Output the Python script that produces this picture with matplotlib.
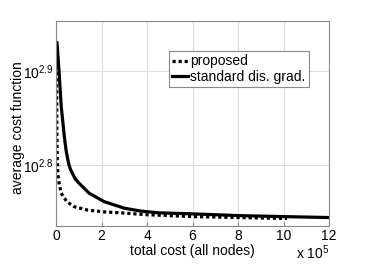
import numpy as np
import matplotlib
matplotlib.use("Agg")
import matplotlib.pyplot as plt

plt.rcParams['font.family'] = ['Liberation Sans', 'DejaVu Sans']
plt.rcParams['mathtext.fontset'] = 'custom'
plt.rcParams['mathtext.rm'] = 'Liberation Sans'
plt.rcParams['mathtext.it'] = 'Liberation Sans:italic'
plt.rcParams['mathtext.bf'] = 'Liberation Sans:bold'

# x in units of 1e5 (total cost), y = log10(average cost)
x_proposed = [0.02, 0.03, 0.04, 0.06, 0.09, 0.13, 0.23, 0.47, 0.79, 1.38, 2.11, 2.84, 4.0, 6.0, 8.0, 10.15]
logy_proposed = [2.931, 2.880, 2.830, 2.800, 2.789, 2.781, 2.770, 2.761, 2.7556, 2.752, 2.750, 2.749, 2.747, 2.745, 2.744, 2.743]

x_standard = [0.04, 0.06, 0.13, 0.23, 0.37, 0.44, 0.50, 0.57, 0.64, 0.72, 0.85, 1.01, 1.45, 2.11, 2.99, 3.69, 4.50, 5.89, 8.10, 10.0, 12.0]
logy_standard = [2.930, 2.925, 2.901, 2.862, 2.829, 2.816, 2.808, 2.800, 2.795, 2.791, 2.785, 2.7806, 2.770, 2.761, 2.754, 2.751, 2.749, 2.748, 2.746, 2.745, 2.744]

labels = ['proposed', 'standard dis. grad.']
xticks = [0, 2, 4, 6, 8, 10, 12]
ytick_exps = [2.8, 2.9]

y_proposed = 10 ** np.array(logy_proposed)
y_standard = 10 ** np.array(logy_standard)

fig = plt.figure(figsize=(3.74, 2.77), dpi=100)
ax = fig.add_axes([56/374, 51/277, 273/374, 205/277])

ax.plot(x_proposed, y_proposed, color='black', lw=2.3, linestyle=(0, (1, 0.9)), label=labels[0])
ax.plot(x_standard, y_standard, color='black', lw=2.3, linestyle='-', label=labels[1],
        solid_joinstyle='round')

ax.set_yscale('log')
ax.set_xlim(0, 12)
ax.set_ylim(10 ** 2.735, 10 ** 2.953)
ax.set_xticks(xticks)
ax.set_xticklabels([str(t) for t in xticks])
ax.set_yticks([10 ** e for e in ytick_exps])
ax.set_yticklabels([r'$10^{%g}$' % e for e in ytick_exps])
ax.yaxis.set_minor_locator(matplotlib.ticker.NullLocator())

ax.grid(True, color='#dcdcdc', lw=0.8)
ax.set_axisbelow(True)
for s in ax.spines.values():
    s.set_color('#888888')
    s.set_linewidth(0.8)
ax.tick_params(direction='in', length=3, color='#888888', labelsize=10, pad=2)

ax.set_xlabel('total cost (all nodes)', fontsize=10, labelpad=1)
ax.set_ylabel('average cost function', fontsize=10)
ax.yaxis.set_label_coords(-0.113, 0.478)
fig.text(329/374, 1 - 253/277, r'x $10^{5}$', ha='right', va='center', fontsize=10)

leg = ax.legend(loc='upper left', bbox_to_anchor=(0.414, 0.854), fontsize=10,
                handlelength=1.1, handletextpad=0.15, labelspacing=0.1,
                borderpad=0.25, borderaxespad=0, fancybox=False, framealpha=1)
leg.get_frame().set_edgecolor('#888888')
leg.get_frame().set_linewidth(0.8)

fig.savefig('out.png', dpi=100)
